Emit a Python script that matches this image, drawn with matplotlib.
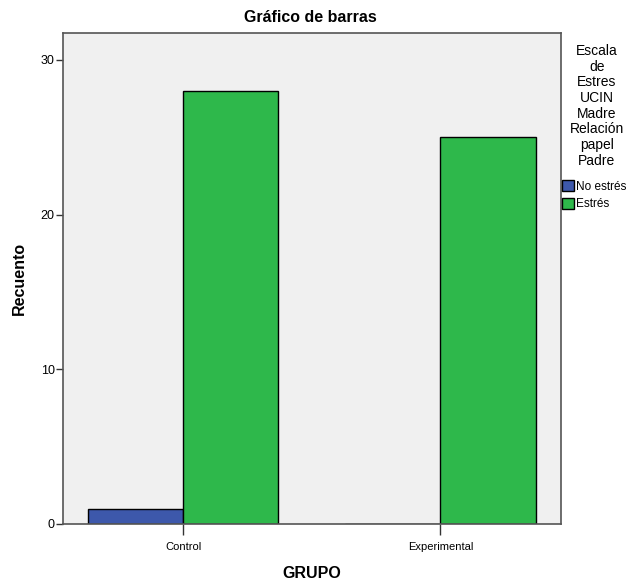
import numpy as np
import matplotlib
matplotlib.use("Agg")
import matplotlib.pyplot as plt
from matplotlib.patches import Patch

plt.rcParams['font.family'] = ['Liberation Sans', 'DejaVu Sans']

grupos = ["Control", "Experimental"]
no_estres = [1, 0]
estres = [28, 25]
series_labels = ["No estrés", "Estrés"]
colores = ["#3D58AB", "#2EB84B"]

fig = plt.figure(figsize=(6.35, 5.82), dpi=100)
ax = fig.add_axes([0.0992, 0.0997, 0.7835, 0.8436])
ax.set_facecolor("#F0F0F0")

x = np.arange(len(grupos))
w = 0.37
ax.bar(x - w / 2, no_estres, w, color=colores[0], edgecolor="black", linewidth=1)
ax.bar(x + w / 2, estres, w, color=colores[1], edgecolor="black", linewidth=1)

ax.set_xlim(-0.467, 1.467)
ax.set_ylim(0, 31.74)
ax.set_yticks([0, 10, 20, 30])
ax.set_xticks(x)
ax.set_xticklabels(grupos, fontsize=8)
ax.tick_params(axis="y", labelsize=9, length=5, width=1, color="#333333", pad=1)
ax.tick_params(axis="x", length=8, width=1, color="#333333", pad=5)
for s in ax.spines.values():
    s.set_color("#555555")
    s.set_linewidth(1.2)

ax.set_xlabel("GRUPO", fontsize=11.5, fontweight="bold", labelpad=10)
ax.set_ylabel("Recuento", fontsize=11.5, fontweight="bold", labelpad=10)
fig.text(0.488, 0.97, "Gráfico de barras", ha="center", va="center",
         fontsize=11.5, fontweight="bold")

# titulo de la leyenda (una palabra por linea)
fig.text(0.94, 0.818, "Escala\nde\nEstres\nUCIN\nMadre\nRelación\npapel\nPadre",
         ha="center", va="center", fontsize=10, linespacing=1.15)
handles = [Patch(facecolor=c, edgecolor="black", label=l) for c, l in zip(colores, series_labels)]
fig.legend(handles=handles, loc="upper left", bbox_to_anchor=(0.885, 0.69),
           frameon=False, fontsize=8.5, handlelength=1.0, handleheight=1.0,
           handletextpad=0.2, labelspacing=0.45, borderaxespad=0, borderpad=0)

fig.savefig("out.png", dpi=100)
